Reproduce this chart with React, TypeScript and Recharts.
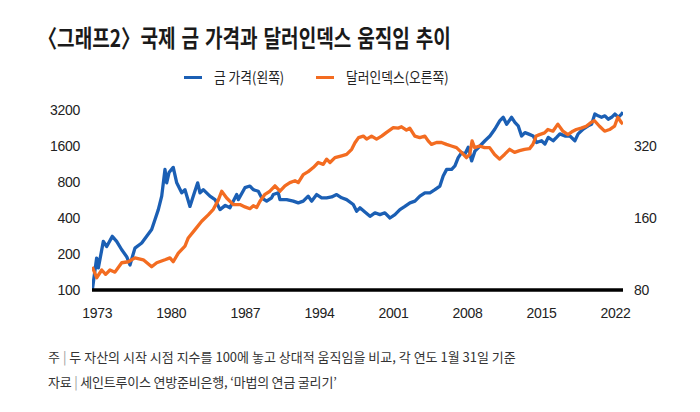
import React from 'react';
import { LineChart, Line, XAxis, YAxis } from 'recharts';

// Gold price index (Jan 1973 = 100), left axis, log scale
const goldYears = [
  1973.03, 1973.44, 1973.6, 1974.07, 1974.39, 1974.92, 1975.33, 1975.81, 1976.28, 1976.59,
  1977.06, 1977.7, 1978.17, 1978.64, 1978.95, 1979.27, 1979.59, 1979.9, 1980.06, 1980.28,
  1980.68, 1981.01, 1981.48, 1981.79, 1982.26, 1982.57, 1982.99, 1983.21, 1983.52, 1984.15,
  1984.63, 1985.1, 1985.6, 1986.04, 1986.68, 1986.83, 1987.46, 1987.93, 1988.25, 1988.72,
  1989.04, 1989.51, 1989.98, 1990.14, 1990.61, 1990.77, 1991.4, 1992.03, 1992.5, 1992.97,
  1993.44, 1993.76, 1994.24, 1994.71, 1995.18, 1995.66, 1996.13, 1996.6, 1997.07, 1997.7,
  1998.02, 1998.33, 1998.8, 1999.28, 1999.75, 2000.22, 2000.69, 2001.17, 2001.64, 2002.11,
  2002.58, 2003.06, 2003.53, 2004.0, 2004.47, 2004.95, 2005.42, 2005.89, 2006.2, 2006.53,
  2007.0, 2007.31, 2007.62, 2007.94, 2008.26, 2008.57, 2008.89, 2009.2, 2009.67, 2010.15,
  2010.62, 2011.09, 2011.56, 2011.88, 2012.2, 2012.67, 2012.98, 2013.29, 2013.61, 2013.93,
  2014.24, 2014.71, 2015.03, 2015.5, 2015.82, 2016.13, 2016.6, 2016.92, 2017.23, 2017.71,
  2018.18, 2018.65, 2018.96, 2019.44, 2019.91, 2020.23, 2020.54, 2020.85, 2021.17, 2021.49,
  2021.8, 2022.12, 2022.43, 2022.75, 2023.06, 2023.2,
];
const goldIndex = [
  100, 185, 153, 255, 231, 281, 255, 217, 190, 162,
  224, 247, 281, 320, 387, 470, 609, 1020, 787, 960,
  1060, 787, 650, 690, 500, 609, 787, 650, 690, 609,
  570, 470, 510, 487, 628, 570, 717, 740, 690, 670,
  590, 553, 590, 628, 650, 570, 570, 553, 535, 553,
  609, 553, 628, 590, 590, 600, 628, 590, 570, 519,
  456, 487, 449, 413, 442, 427, 442, 400, 427, 470,
  500, 535, 553, 609, 650, 650, 690, 740, 897, 1020,
  1020, 1090, 1280, 1410, 1370, 1560, 1200, 1450, 1600, 1770,
  1940, 2220, 2610, 2780, 2430, 2780, 2520, 2360, 1940, 2070,
  2020, 1940, 1710, 1770, 1660, 1890, 1770, 1890, 2020, 1940,
  1940, 1770, 2020, 2220, 2360, 2430, 2960, 2860, 2780, 2860,
  2680, 2780, 2960, 2780, 2960, 3070,
];

// Dollar index (Jan 1973 = 100), right axis, log scale
const dollarYears = [
  1973.03, 1973.44, 1973.92, 1974.29, 1974.7, 1975.17, 1975.81, 1976.43, 1977.06, 1977.85,
  1978.64, 1979.12, 1979.9, 1980.37, 1980.68, 1981.16, 1981.79, 1982.1, 1982.74, 1983.37,
  1983.99, 1984.47, 1984.94, 1985.26, 1985.73, 1986.36, 1986.99, 1987.46, 1987.93, 1988.25,
  1988.57, 1988.88, 1989.35, 1989.82, 1990.3, 1990.77, 1991.24, 1991.71, 1992.19, 1992.5,
  1992.97, 1993.44, 1993.92, 1994.39, 1994.86, 1995.18, 1995.5, 1995.97, 1996.6, 1997.07,
  1997.55, 1997.86, 1998.2, 1998.65, 1998.96, 1999.43, 1999.9, 2000.38, 2000.85, 2001.48,
  2001.95, 2002.26, 2002.73, 2003.04, 2003.52, 2003.99, 2004.47, 2004.78, 2005.09, 2005.57,
  2006.04, 2006.51, 2006.98, 2007.46, 2007.93, 2008.4, 2008.71, 2008.93, 2009.17, 2009.64,
  2010.11, 2010.59, 2011.06, 2011.53, 2012.0, 2012.48, 2012.95, 2013.42, 2013.89, 2014.37,
  2014.68, 2014.99, 2015.31, 2015.78, 2016.1, 2016.57, 2017.04, 2017.52, 2017.99, 2018.46,
  2018.78, 2019.25, 2019.72, 2020.2, 2020.51, 2020.98, 2021.46, 2021.93, 2022.4, 2022.71,
  2023.03, 2023.2,
];
const dollarIndex = [
  100, 90, 97, 93, 97, 95, 104, 105, 109, 107,
  100, 104, 107, 109, 105, 114, 122, 132, 143, 155,
  165, 174, 190, 207, 194, 182, 182, 178, 175, 180,
  177, 188, 201, 207, 218, 207, 218, 225, 229, 225,
  243, 250, 260, 273, 268, 282, 273, 286, 291, 295,
  310, 330, 347, 352, 342, 352, 342, 352, 365, 382,
  380, 385, 373, 380, 352, 347, 352, 336, 325, 331,
  331, 325, 320, 315, 301, 286, 295, 336, 315, 320,
  315, 315, 295, 282, 295, 310, 301, 306, 310, 312,
  325, 352, 357, 363, 375, 369, 395, 369, 357, 369,
  375, 380, 387, 402, 408, 387, 369, 375, 387, 422,
  402, 395,
];

const xTickYears = [1973, 1980, 1987, 1994, 2001, 2008, 2015, 2022];
const leftTicks = [100, 200, 400, 800, 1600, 3200];
const rightTicks = [80, 160, 320];

const seriesNames = { gold: '금 가격(왼쪽)', dollar: '달러인덱스(오른쪽)' };
const BLUE = '#1b5fb4';
const ORANGE = '#f36c21';

type Row = { t: number; gold?: number; dollar?: number };
const rowMap = new Map<number, Row>();
goldYears.forEach((t, i) => {
  const r = rowMap.get(t) ?? { t };
  r.gold = goldIndex[i];
  rowMap.set(t, r);
});
dollarYears.forEach((t, i) => {
  const r = rowMap.get(t) ?? { t };
  r.dollar = dollarIndex[i];
  rowMap.set(t, r);
});
const tableData: Row[] = Array.from(rowMap.values()).sort((a, b) => a.t - b.t);

const tickFont = {
  fontSize: 14,
  fill: '#222',
  fontFamily: '"Liberation Sans", Arial, sans-serif',
  letterSpacing: -0.3,
};

const KR = '"Noto Sans CJK KR", "Noto Sans", sans-serif';

export default function App() {
  return (
    <div
      style={{
        position: 'absolute',
        left: 0,
        top: 0,
        width: 700,
        height: 412,
        background: '#fff',
        overflow: 'hidden',
        fontFamily: KR,
      }}
    >
      <div
        style={{
          position: 'absolute',
          left: 38,
          top: 24,
          fontSize: 24,
          lineHeight: '26px',
          fontWeight: 700,
          color: '#1a1a1a',
          wordSpacing: 2,
          whiteSpace: 'pre',
          transform: 'scaleX(0.795)',
          transformOrigin: '0 0',
        }}
      >
        〈그래프2〉<span style={{ wordSpacing: -5 }}> </span>국제 금 가격과 달러인덱스 움직임 추이
      </div>

      <div
        style={{
          position: 'absolute',
          left: 0,
          top: 66,
          width: 700,
          height: 22,
          fontSize: 14.5,
          lineHeight: '22px',
          color: '#222',
          whiteSpace: 'nowrap',
        }}
      >
        <div style={{ position: 'absolute', left: 184, top: 10, width: 18, height: 3, background: BLUE }} />
        <div style={{ position: 'absolute', left: 214, top: 0, transform: 'scaleX(0.88)', transformOrigin: '0 0' }}>
          {seriesNames.gold}
        </div>
        <div style={{ position: 'absolute', left: 316, top: 10, width: 18, height: 3, background: ORANGE }} />
        <div style={{ position: 'absolute', left: 346, top: 0, transform: 'scaleX(0.88)', transformOrigin: '0 0' }}>
          {seriesNames.dollar}
        </div>
      </div>

      <div style={{ position: 'absolute', left: 0, top: 0 }}>
        <LineChart
          width={700}
          height={412}
          data={tableData}
          margin={{ top: 110, right: 17, bottom: 92, left: 52 }}
        >
          <XAxis
            dataKey="t"
            type="number"
            domain={[1973, 2023.2]}
            ticks={xTickYears.map((y) => y + 0.5)}
            tickFormatter={(v: number) => String(Math.floor(v))}
            tickLine={false}
            tickSize={0}
            tickMargin={18}
            axisLine={{ stroke: '#000', strokeWidth: 3.5 }}
            tick={tickFont}
            height={30}
            allowDataOverflow
          />
          <YAxis
            yAxisId="left"
            orientation="left"
            scale="log"
            type="number"
            domain={[100, 3200]}
            ticks={leftTicks}
            axisLine={false}
            tickLine={false}
            tickSize={0}
            tickMargin={12}
            tick={tickFont}
            width={40}
            allowDataOverflow
          />
          <YAxis
            yAxisId="right"
            orientation="right"
            scale="log"
            type="number"
            domain={[80, 452.5]}
            ticks={rightTicks}
            axisLine={false}
            tickLine={false}
            tickSize={0}
            tickMargin={11}
            tick={{ ...tickFont, textAnchor: 'start' }}
            width={60}
            allowDataOverflow
          />
          <Line
            yAxisId="left"
            dataKey="gold"
            name={seriesNames.gold}
            stroke={BLUE}
            strokeWidth={3.3}
            dot={false}
            connectNulls
            type="linear"
            strokeLinejoin="round"
            isAnimationActive={false}
          />
          <Line
            yAxisId="right"
            dataKey="dollar"
            name={seriesNames.dollar}
            stroke={ORANGE}
            strokeWidth={3.3}
            dot={false}
            connectNulls
            type="linear"
            strokeLinejoin="round"
            isAnimationActive={false}
          />
        </LineChart>
      </div>

      <div
        style={{
          position: 'absolute',
          left: 48,
          top: 348,
          fontSize: 13,
          lineHeight: '18px',
          color: '#333',
          letterSpacing: 0,
          whiteSpace: 'nowrap',
        }}
      >
        주 <span style={{ color: '#999' }}>|</span> 두 자산의 시작 시점 지수를 100에 놓고 상대적 움직임을 비교, 각 연도 1월 31일 기준
      </div>
      <div
        style={{
          position: 'absolute',
          left: 48,
          top: 373,
          fontSize: 13,
          lineHeight: '18px',
          color: '#333',
          letterSpacing: -0.2,
          whiteSpace: 'nowrap',
        }}
      >
        자료 <span style={{ color: '#999' }}>|</span> 세인트루이스 연방준비은행, ‘마법의 연금 굴리기’
      </div>
    </div>
  );
}
